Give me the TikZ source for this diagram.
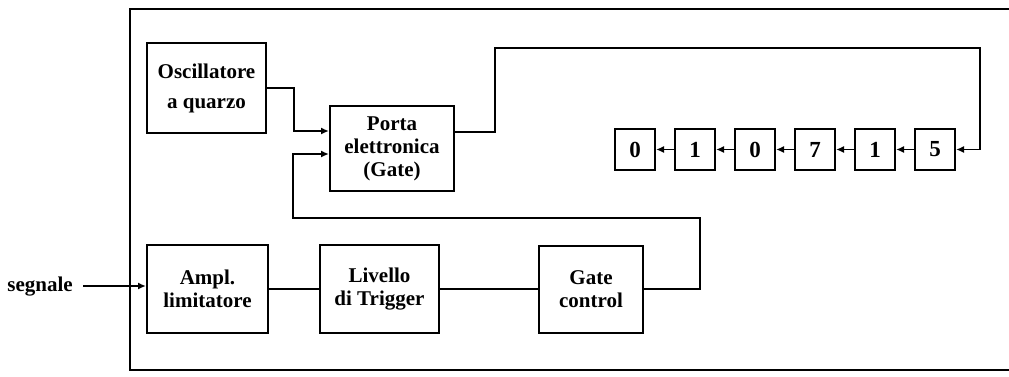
\documentclass[tikz,border=0pt]{standalone}
\usepackage{fontspec}
\setmainfont{Liberation Serif}
\usetikzlibrary{arrows.meta, positioning, calc}
\begin{document}
\begin{tikzpicture}[
        x=0.5pt, y=-0.5pt,
        node distance=9pt,
        block/.style={
            rectangle, draw=black, line width=1pt, fill=white,
            minimum width=60pt, minimum height=44pt, inner sep=2pt,
            align=center, font=\bfseries\fontsize{10.5}{11.5}\selectfont
        },
        digit/.style={
            rectangle, draw=black, line width=1pt, fill=white,
            minimum width=20pt, minimum height=20.5pt, inner sep=0pt,
            font=\bfseries\fontsize{11.5}{12}\selectfont
        },
        wire/.style={line width=0.9pt, black},
        arr/.style={-{Latex[length=4pt, width=3.5pt]}, line width=0.9pt, black},
        lbl/.style={font=\bfseries\fontsize{10.5}{11.5}\selectfont, inner sep=1pt}
    ]
    \useasboundingbox (0,0) rectangle (1009,376);

    % === Open frame ===
    \coordinate (fTR) at (1009,9);
    \coordinate (fTL) at (130,9);
    \coordinate (fBL) at (130,370);
    \coordinate (fBR) at (1009,370);
    \draw[line width=0.8pt] (fTR) -- (fTL) -- (fBL) -- (fBR);

    % === Upper row: time base and gate ===
    \node[block, minimum width=59.5pt, minimum height=45pt] (osc) at (206.5,88) {Oscillatore\\[3.5pt]a quarzo};
    \node[block, minimum width=62pt, minimum height=42.5pt] (porta) at (392,148.5) {Porta\\elettronica\\(Gate)};

    % === Lower row: input chain ===
    \node[block, minimum width=60.5pt] (ampl) at (207.5,289) {Ampl.\\limitatore};
    \node[block, minimum width=59.5pt, right=25pt of ampl] (liv) {Livello\\di Trigger};
    \node[block, minimum width=52pt, minimum height=43.5pt, right=49pt of liv] (gc) {Gate\\control};
    \node[lbl] (sig) at (40,287) {segnale};

    % === Counter display ===
    \node[digit] (d5) at (935,149.5) {5};
    \node[digit, left=of d5] (d4) {1};
    \node[digit, left=of d4] (d3) {7};
    \node[digit, left=of d3] (d2) {0};
    \node[digit, left=of d2] (d1) {1};
    \node[digit, left=of d1] (d0) {0};

    % === Gate inputs / outputs ===
    \coordinate (pin1) at ($(porta.west)+(0,8.75pt)$);
    \coordinate (pin2) at ($(porta.west)+(0,-2.75pt)$);
    \coordinate (pout) at ($(porta.east)+(0,8.25pt)$);
    \coordinate (fbR) at (700,218);
    \coordinate (fbL) at (293,218);
    \coordinate (topL) at (495,48);
    \coordinate (topR) at (980,48);
    \coordinate (sigin) at ($(sig.east)+(4pt,0.5pt)$);

    % === Connections ===
    \draw[arr] (sigin) -- (sigin -| ampl.west);
    \draw[wire] (ampl.east) -- (liv.west);
    \draw[wire] (liv.east) -- (gc.west);
    \draw[arr] (osc.east) -- ++(27,0) |- (pin1);
    \draw[arr] (gc.east) -| (fbR) -- (fbL) |- (pin2);
    \draw[arr] (pout) -| (topL) -- (topR) |- (d5.east);

    % === Digit chain ===
    \draw[arr] (d5.west) -- (d4.east);
    \draw[arr] (d4.west) -- (d3.east);
    \draw[arr] (d3.west) -- (d2.east);
    \draw[arr] (d2.west) -- (d1.east);
    \draw[arr] (d1.west) -- (d0.east);

\end{tikzpicture}
\end{document}
